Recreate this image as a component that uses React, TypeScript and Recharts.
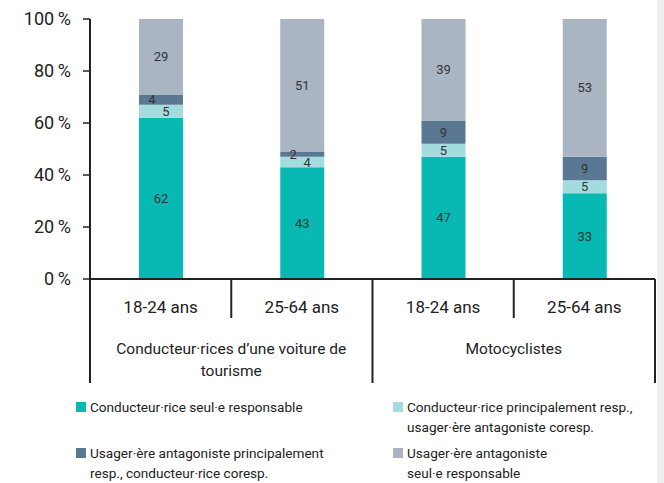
import React from 'react';
import { BarChart, Bar, XAxis, YAxis, LabelList } from 'recharts';

const categories = ['18-24 ans', '25-64 ans', '18-24 ans', '25-64 ans'];
const groupLabels = [['Conducteur·rices d’une voiture de', 'tourisme'], [], ['Motocyclistes'], []];
const seulResp = [62, 43, 47, 33];
const principal = [5, 4, 5, 5];
const antagPrincipal = [4, 2, 9, 9];
const antagSeul = [29, 51, 39, 53];
const yTicks = [0, 20, 40, 60, 80, 100];

const seriesNames = [
  'Conducteur·rice seul·e responsable',
  'Conducteur·rice principalement resp.,\nusager·ère antagoniste coresp.',
  'Usager·ère antagoniste principalement\nresp., conducteur·rice coresp.',
  'Usager·ère antagoniste\nseul·e responsable',
];
const seriesColors = ['#07B8B3', '#A3DCDF', '#5A7894', '#AAB5C3'];
const seriesKeys = ['seul', 'principal', 'antagPrincipal', 'antagSeul'];

const data = categories.map((c, i) => ({
  cat: c,
  idx: i,
  seul: seulResp[i],
  principal: principal[i],
  antagPrincipal: antagPrincipal[i],
  antagSeul: antagSeul[i],
}));

const FONT = 'Roboto, "Liberation Sans", Arial, sans-serif';
const INK = '#222';

const AxisTick = (props: any) => {
  const { x, y, payload, index } = props;
  const half = payload && payload.offset ? payload.offset : 70.6;
  const tall = 104;
  const short = 39;
  const lines = groupLabels[index] || [];
  return (
    <g>
      <text x={x} y={y + 28} textAnchor="middle" dominantBaseline="central" fontSize={17} fill={INK} fontFamily={FONT}>
        {categories[index]}
      </text>
      {index === 0 && <line x1={x - half} x2={x - half} y1={y} y2={y + tall} stroke={INK} strokeWidth={2} />}
      <line
        x1={x + half}
        x2={x + half}
        y1={y}
        y2={y + (index % 2 === 1 ? tall : short)}
        stroke={INK}
        strokeWidth={2}
      />
      {lines.map((l, k) => (
        <text
          key={k}
          x={x + half}
          y={y + 70 + k * 22}
          textAnchor="middle"
          dominantBaseline="central"
          fontSize={15.5}
          fill={INK}
          fontFamily={FONT}
        >
          {l}
        </text>
      ))}
    </g>
  );
};

const makeLabel = (seriesIdx: number) => (props: any) => {
  const { x, y, width, height, value, index } = props;
  let dx = 0;
  if (antagPrincipal[index] < 5) {
    if (seriesIdx === 1) dx = 5;
    if (seriesIdx === 2) dx = -9;
  }
  return (
    <text
      x={x + width / 2 + dx}
      y={y + height / 2}
      textAnchor="middle"
      dominantBaseline="central"
      fontSize={13}
      fill="#333"
      fontFamily={FONT}
    >
      {value}
    </text>
  );
};

const legendOrder = [0, 1, 2, 3];
const legendPos = [
  { left: 76, top: 397 },
  { left: 393, top: 397 },
  { left: 76, top: 443 },
  { left: 393, top: 443 },
];

export default function App() {
  return (
    <div style={{ position: 'absolute', left: 0, top: 0, width: 664, height: 483, background: '#fff', overflow: 'hidden' }}>
      <div style={{ position: 'absolute', left: 657, top: 0, width: 7, height: 483, background: '#EFEFF1' }} />
      <div style={{ position: 'absolute', left: 0, top: 0 }}>
        <BarChart
          width={664}
          height={390}
          data={data}
          margin={{ top: 19, right: 9, left: 0, bottom: 0 }}
          barSize={44}
        >
          <XAxis
            dataKey="idx"
            type="category"
            height={111}
            tickSize={0}
            tickMargin={0}
            tickLine={false}
            axisLine={{ stroke: INK, strokeWidth: 2 }}
            tick={<AxisTick />}
            interval={0}
          />
          <YAxis
            width={90}
            domain={[0, 100]}
            ticks={yTicks}
            tickFormatter={(v: number) => `${v}\u2009%`}
            tickSize={7}
            tickMargin={12}
            axisLine={{ stroke: INK, strokeWidth: 2 }}
            tickLine={{ stroke: INK, strokeWidth: 1.5 }}
            tick={{ fontSize: 18, fill: INK, fontFamily: FONT }}
          />
          {seriesKeys.map((k, i) => (
            <Bar key={k} dataKey={k} stackId="a" fill={seriesColors[i]} isAnimationActive={false}>
              <LabelList dataKey={k} content={makeLabel(i)} />
            </Bar>
          ))}
        </BarChart>
      </div>
      {legendOrder.map((s, i) => (
        <div
          key={s}
          style={{
            position: 'absolute',
            left: legendPos[i].left,
            top: legendPos[i].top,
            display: 'flex',
            alignItems: 'flex-start',
            fontFamily: FONT,
            fontSize: 13.6,
            lineHeight: '20px',
            color: INK,
            whiteSpace: 'pre-line',
          }}
        >
          <div style={{ width: 10, height: 10, marginTop: 5, marginRight: 4, background: seriesColors[s], flex: 'none' }} />
          <div>{seriesNames[s]}</div>
        </div>
      ))}
    </div>
  );
}
